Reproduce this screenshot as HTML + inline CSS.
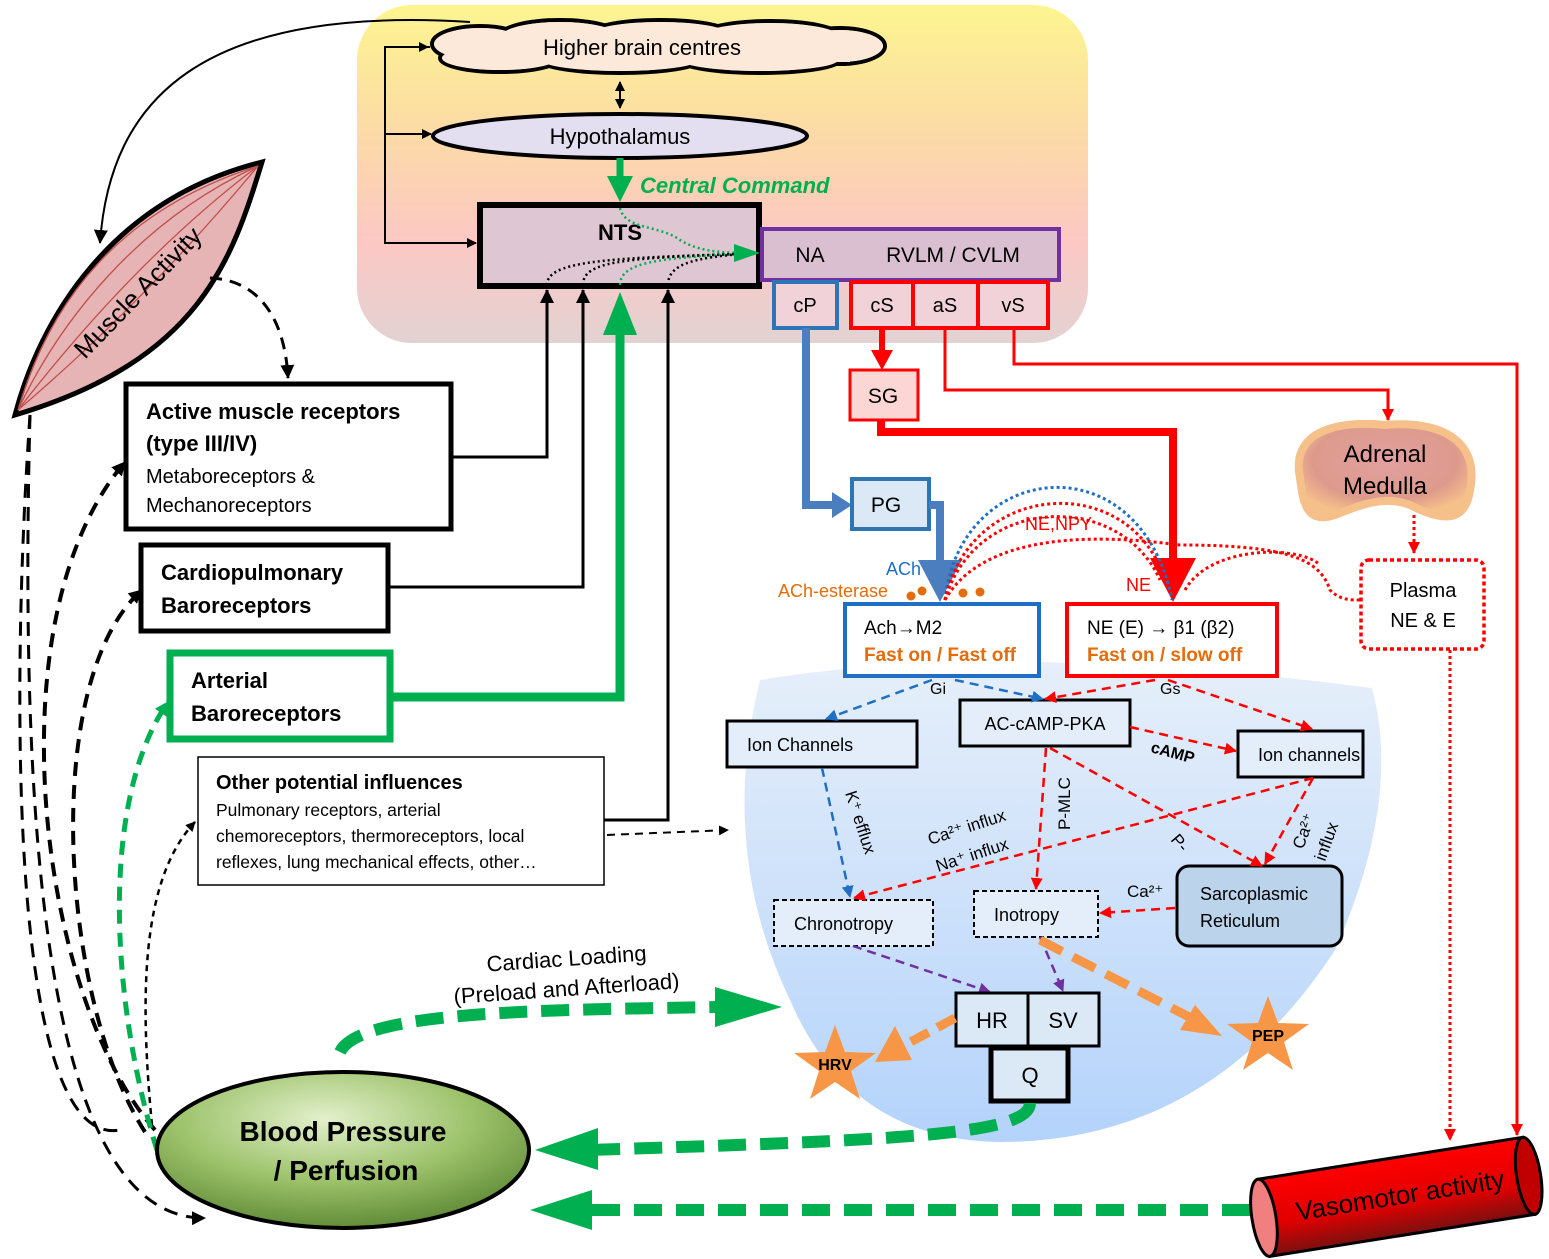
<!DOCTYPE html>
<html><head><meta charset="utf-8"><style>
html,body{margin:0;padding:0;background:#fff}
svg{display:block}
text{font-family:"Liberation Sans",sans-serif}
</style></head><body>
<svg width="1549" height="1259" viewBox="0 0 1549 1259" xmlns="http://www.w3.org/2000/svg">
<defs>
<linearGradient id="brain" x1="0" y1="0" x2="0" y2="1">
<stop offset="0" stop-color="#fdf590"/><stop offset="0.4" stop-color="#fcd9a8"/><stop offset="0.7" stop-color="#fcc8c4"/><stop offset="1" stop-color="#e2d2d2"/></linearGradient>
<linearGradient id="heart" x1="0" y1="0" x2="0" y2="1">
<stop offset="0" stop-color="#e6effa"/><stop offset="1" stop-color="#b4d3fb"/></linearGradient>
<radialGradient id="bp" cx="0.45" cy="0.3" r="0.8">
<stop offset="0" stop-color="#e3f0cc"/><stop offset="0.5" stop-color="#9cc26a"/><stop offset="1" stop-color="#4f7a28"/></radialGradient>
<linearGradient id="cyl" x1="0" y1="0" x2="0" y2="1">
<stop offset="0" stop-color="#ff0000"/><stop offset="0.6" stop-color="#e00000"/><stop offset="1" stop-color="#7a1010"/></linearGradient>
<radialGradient id="adr" cx="0.5" cy="0.4" r="0.6">
<stop offset="0" stop-color="#e2a0a0"/><stop offset="0.7" stop-color="#dd9a8c"/><stop offset="1" stop-color="#f6c08a"/></radialGradient>
<marker id="ak" markerWidth="10" markerHeight="10" refX="9" refY="5" orient="auto" markerUnits="userSpaceOnUse"><path d="M0,0 L10,5 L0,10 z" fill="#000"/></marker>
<marker id="akb" markerWidth="14" markerHeight="14" refX="13" refY="7" orient="auto" markerUnits="userSpaceOnUse"><path d="M0,0 L14,7 L0,14 z" fill="#000"/></marker>
<marker id="ar" markerWidth="12" markerHeight="12" refX="11" refY="6" orient="auto" markerUnits="userSpaceOnUse"><path d="M0,0 L12,6 L0,12 z" fill="#ff0000"/></marker>
<marker id="ab" markerWidth="12" markerHeight="12" refX="11" refY="6" orient="auto" markerUnits="userSpaceOnUse"><path d="M0,0 L12,6 L0,12 z" fill="#1f6fc5"/></marker>
<marker id="ap" markerWidth="12" markerHeight="12" refX="11" refY="6" orient="auto" markerUnits="userSpaceOnUse"><path d="M0,0 L12,6 L0,12 z" fill="#7030a0"/></marker>
<marker id="ag" markerWidth="14" markerHeight="14" refX="13" refY="7" orient="auto" markerUnits="userSpaceOnUse"><path d="M0,0 L14,7 L0,14 z" fill="#00b050"/></marker>
</defs>

<!-- brain background -->
<rect x="357" y="5" width="731" height="338" rx="55" fill="url(#brain)"/>

<!-- heart blob -->
<path d="M760 680 Q1000 640 1372 688 Q1402 800 1335 950 Q1210 1142 1000 1142 Q850 1140 790 1000 Q718 850 760 680 Z" fill="url(#heart)"/>

<!-- cloud -->
<g stroke="#000" stroke-width="4" fill="#fde9d9">
<ellipse cx="480" cy="44" rx="48" ry="18"/><ellipse cx="560" cy="36" rx="60" ry="16"/><ellipse cx="660" cy="34" rx="70" ry="14"/><ellipse cx="770" cy="36" rx="70" ry="15"/><ellipse cx="840" cy="46" rx="45" ry="18"/>
<ellipse cx="500" cy="58" rx="60" ry="14"/><ellipse cx="620" cy="60" rx="80" ry="13"/><ellipse cx="760" cy="60" rx="80" ry="13"/>
</g>
<g fill="#fde9d9"><ellipse cx="480" cy="44" rx="46" ry="16"/><ellipse cx="560" cy="36" rx="58" ry="14"/><ellipse cx="660" cy="34" rx="68" ry="12"/><ellipse cx="770" cy="36" rx="68" ry="13"/><ellipse cx="840" cy="46" rx="43" ry="16"/>
<ellipse cx="500" cy="58" rx="58" ry="12"/><ellipse cx="620" cy="60" rx="78" ry="11"/><ellipse cx="760" cy="60" rx="78" ry="11"/><rect x="470" y="36" width="380" height="26"/></g>
<text x="642" y="55" font-size="22" text-anchor="middle">Higher brain centres</text>

<ellipse cx="620" cy="136" rx="187" ry="22" fill="#e4dff0" stroke="#000" stroke-width="4"/>
<text x="620" y="144" font-size="22" text-anchor="middle">Hypothalamus</text>
<!-- double arrow -->
<line x1="620" y1="86" x2="620" y2="108" stroke="#000" stroke-width="2" marker-end="url(#ak)"/>
<line x1="620" y1="106" x2="620" y2="82" stroke="#000" stroke-width="2" marker-end="url(#ak)"/>

<!-- left bracket -->
<path d="M430 47 L385 47 L385 243 L476 243" fill="none" stroke="#000" stroke-width="2" marker-end="url(#ak)"/>
<line x1="385" y1="47" x2="428" y2="47" stroke="#000" stroke-width="2" marker-end="url(#ak)"/>
<line x1="385" y1="134" x2="431" y2="134" stroke="#000" stroke-width="2" marker-end="url(#ak)"/>

<!-- green central command -->
<line x1="620" y1="158" x2="620" y2="178" stroke="#00b050" stroke-width="7"/>
<path d="M607 176 L633 176 L620 202 z" fill="#00b050"/>
<text x="640" y="193" font-size="22" font-weight="bold" font-style="italic" fill="#00b050">Central Command</text>

<!-- NTS -->
<rect x="480" y="205" width="279" height="81" fill="#dfc6d3" stroke="#000" stroke-width="6"/>
<text x="620" y="240" font-size="22" font-weight="bold" text-anchor="middle">NTS</text>
<path d="M620 208 C625 230 660 225 680 240 C700 252 720 252 740 253" fill="none" stroke="#00b050" stroke-width="2.5" stroke-dasharray="2,3"/>
<path d="M547 285 C547 262 600 258 740 254" fill="none" stroke="#000" stroke-width="2.5" stroke-dasharray="2,3"/>
<path d="M583 285 C583 262 620 258 740 254" fill="none" stroke="#000" stroke-width="2.5" stroke-dasharray="2,3"/>
<path d="M620 285 C620 262 660 258 740 254" fill="none" stroke="#00b050" stroke-width="2.5" stroke-dasharray="2,3"/>
<path d="M668 285 C668 262 700 258 740 254" fill="none" stroke="#000" stroke-width="2.5" stroke-dasharray="2,3"/>
<path d="M734 244 L760 253 L734 262 z" fill="#00b050"/>

<!-- NA box -->
<rect x="762" y="229" width="297" height="51" fill="#d9bfcf" stroke="#7030a0" stroke-width="4"/>
<text x="810" y="262" font-size="21" text-anchor="middle">NA</text>
<text x="953" y="262" font-size="21" text-anchor="middle">RVLM / CVLM</text>
<rect x="774" y="282" width="63" height="46" fill="#f0d2d8" stroke="#2e75b6" stroke-width="4"/>
<text x="805" y="312" font-size="20" text-anchor="middle">cP</text>
<rect x="851" y="282" width="62" height="46" fill="#f0d2d8" stroke="#ff0000" stroke-width="4"/>
<text x="882" y="312" font-size="20" text-anchor="middle">cS</text>
<rect x="913" y="282" width="65" height="46" fill="#f0d2d8" stroke="#ff0000" stroke-width="4"/>
<text x="945" y="312" font-size="20" text-anchor="middle">aS</text>
<rect x="978" y="282" width="70" height="46" fill="#f0d2d8" stroke="#ff0000" stroke-width="4"/>
<text x="1013" y="312" font-size="20" text-anchor="middle">vS</text>

<!-- muscle -->
<path d="M15 415 C40 320 110 200 262 162 C232 260 200 360 15 415 Z" fill="#e6b4b4" stroke="#000" stroke-width="5"/>
<g stroke="#c0504d" stroke-width="1.3" fill="none">
<path d="M18 410 C60 320 140 220 258 166"/><path d="M18 410 C80 330 160 240 258 166"/><path d="M18 410 C100 340 180 260 258 166"/><path d="M18 410 C50 300 120 210 258 166"/></g>
<text x="0" y="0" font-size="26" transform="translate(85,360) rotate(-46)">Muscle Activity</text>
<path d="M470 22 C200 5 110 100 100 243" fill="none" stroke="#000" stroke-width="2" marker-end="url(#akb)"/>
<path d="M210 278 C260 280 285 320 288 378" fill="none" stroke="#000" stroke-width="3" stroke-dasharray="12,8" marker-end="url(#akb)"/>

<!-- left boxes -->
<rect x="126" y="384" width="325" height="145" fill="#fff" stroke="#000" stroke-width="5"/>
<text x="146" y="419" font-size="22" font-weight="bold">Active muscle receptors</text>
<text x="146" y="451" font-size="22" font-weight="bold">(type III/IV)</text>
<text x="146" y="483" font-size="20">Metaboreceptors &amp;</text>
<text x="146" y="512" font-size="20">Mechanoreceptors</text>
<rect x="141" y="545" width="247" height="86" fill="#fff" stroke="#000" stroke-width="5"/>
<text x="161" y="580" font-size="22" font-weight="bold">Cardiopulmonary</text>
<text x="161" y="613" font-size="22" font-weight="bold">Baroreceptors</text>
<rect x="170" y="653" width="220" height="86" fill="#fff" stroke="#00b050" stroke-width="7"/>
<text x="191" y="688" font-size="22" font-weight="bold">Arterial</text>
<text x="191" y="721" font-size="22" font-weight="bold">Baroreceptors</text>
<rect x="198" y="757" width="406" height="128" fill="#fff" stroke="#000" stroke-width="1.5"/>
<text x="216" y="789" font-size="20" font-weight="bold">Other potential influences</text>
<text x="216" y="816" font-size="17.5">Pulmonary receptors, arterial</text>
<text x="216" y="842" font-size="17.5">chemoreceptors, thermoreceptors, local</text>
<text x="216" y="868" font-size="17.5">reflexes, lung mechanical effects, other…</text>

<!-- inputs to NTS -->
<path d="M451 457 L547 457 L547 290" fill="none" stroke="#000" stroke-width="3" marker-end="url(#akb)"/>
<path d="M389 587 L583 587 L583 290" fill="none" stroke="#000" stroke-width="3" marker-end="url(#akb)"/>
<path d="M604 820 L668 820 L668 290" fill="none" stroke="#000" stroke-width="3" marker-end="url(#akb)"/>
<path d="M391 697 L620 697 L620 330" fill="none" stroke="#00b050" stroke-width="9"/>
<path d="M603 335 L637 335 L620 292 z" fill="#00b050"/>
<path d="M607 835 L728 830" fill="none" stroke="#000" stroke-width="2" stroke-dasharray="8,6" marker-end="url(#ak)"/>

<!-- left dashed feedback -->
<g fill="none" stroke="#000" stroke-dasharray="14,9">
<path d="M155 1130 C40 1000 -10 620 125 462" stroke-width="4" marker-end="url(#akb)"/>
<path d="M145 1132 C60 1000 40 680 142 590" stroke-width="4" marker-end="url(#akb)"/>
<path d="M30 415 C10 700 10 1150 120 1130" stroke-width="3"/>
<path d="M30 415 C20 800 40 1220 205 1218" stroke-width="3" marker-end="url(#akb)"/>
<path d="M152 1125 C140 1000 140 880 195 822" stroke-width="2.5" stroke-dasharray="6,5" marker-end="url(#ak)"/>
</g>
<path d="M157 1150 C110 1000 100 800 168 702" fill="none" stroke="#00b050" stroke-width="5" stroke-dasharray="14,9" marker-end="url(#ag)"/>

<!-- blood pressure -->
<ellipse cx="343" cy="1150" rx="186" ry="78" fill="url(#bp)" stroke="#000" stroke-width="4"/>
<text x="343" y="1141" font-size="28" font-weight="bold" text-anchor="middle">Blood Pressure</text>
<text x="346" y="1180" font-size="28" font-weight="bold" text-anchor="middle">/ Perfusion</text>

<!-- autonomic paths -->
<path d="M806 328 L806 505 L835 505" fill="none" stroke="#4a7ebf" stroke-width="8"/>
<path d="M832 492 L852 505 L832 518 z" fill="#4a7ebf"/>
<rect x="852" y="479" width="77" height="50" fill="#dbe9f6" stroke="#2e75b6" stroke-width="4"/>
<text x="886" y="512" font-size="21" text-anchor="middle">PG</text>
<path d="M929 505 L940 505 L940 565" fill="none" stroke="#4a7ebf" stroke-width="8"/>
<path d="M918 560 L962 560 L940 602 z" fill="#4a7ebf"/>

<line x1="882" y1="328" x2="882" y2="352" stroke="#ff0000" stroke-width="6"/>
<path d="M871 350 L893 350 L882 370 z" fill="#ff0000"/>
<rect x="850" y="370" width="68" height="50" fill="#fcd5d5" stroke="#ff0000" stroke-width="3"/>
<text x="883" y="403" font-size="21" text-anchor="middle">SG</text>
<path d="M881 420 L881 432 L1173 432 L1173 560" fill="none" stroke="#ff0000" stroke-width="8"/>
<path d="M1150 558 L1196 558 L1173 602 z" fill="#ff0000"/>

<path d="M945 328 L945 390 L1388 390 L1388 420" fill="none" stroke="#ff0000" stroke-width="3" marker-end="url(#ar)"/>
<path d="M1014 328 L1014 364 L1517 364 L1517 1135" fill="none" stroke="#ff0000" stroke-width="3" marker-end="url(#ar)"/>

<!-- adrenal -->
<path d="M1300 478 C1290 430 1340 420 1385 425 C1440 420 1480 440 1470 490 C1465 525 1440 520 1410 505 C1385 495 1360 505 1335 515 C1305 525 1303 500 1300 478 Z" fill="url(#adr)" stroke="#f6c08a" stroke-width="8"/>
<text x="1385" y="462" font-size="24" text-anchor="middle">Adrenal</text>
<text x="1385" y="494" font-size="24" text-anchor="middle">Medulla</text>
<path d="M1414 515 L1414 553" fill="none" stroke="#ff0000" stroke-width="3" stroke-dasharray="3,3" marker-end="url(#ar)"/>
<rect x="1361" y="560" width="123" height="89" rx="8" fill="#fff" stroke="#ff0000" stroke-width="3.5" stroke-dasharray="4,3"/>
<text x="1423" y="597" font-size="20" text-anchor="middle">Plasma</text>
<text x="1423" y="627" font-size="20" text-anchor="middle">NE &amp; E</text>
<path d="M1450 650 L1450 1140" fill="none" stroke="#ff0000" stroke-width="3" stroke-dasharray="3,3" marker-end="url(#ar)"/>

<!-- dotted arcs -->
<g fill="none" stroke-width="3" stroke-dasharray="3,3">
<path d="M945 600 C960 460 1140 440 1172 600" stroke="#1f6fc5"/>
<path d="M945 600 C970 480 1130 470 1165 580" stroke="#ff0000"/>
<path d="M945 600 C975 495 1120 490 1160 580" stroke="#ff0000"/>
<path d="M945 600 C990 520 1140 540 1180 545 C1290 545 1320 560 1330 590 C1340 600 1350 600 1360 600" stroke="#ff0000"/>
<path d="M1185 590 C1210 545 1300 545 1320 565" stroke="#ff0000"/>
</g>
<text x="1025" y="530" font-size="18" fill="#ff0000">NE,NPY</text>
<text x="886" y="575" font-size="18" fill="#1f6fc5">ACh</text>
<text x="778" y="597" font-size="18" fill="#e46c0a">ACh-esterase</text>
<text x="1126" y="591" font-size="18" fill="#ff0000">NE</text>
<g fill="#e46c0a"><circle cx="911" cy="596" r="4.5"/><circle cx="922" cy="591" r="4.5"/><circle cx="963" cy="593" r="4.5"/><circle cx="980" cy="592" r="4.5"/></g>

<!-- receptor boxes -->
<rect x="845" y="604" width="194" height="72" fill="#fff" stroke="#1f6fc5" stroke-width="4"/>
<text x="864" y="634" font-size="19">Ach→M2</text>
<text x="864" y="661" font-size="19" font-weight="bold" fill="#e46c0a">Fast on / Fast off</text>
<rect x="1067" y="604" width="210" height="72" fill="#fff" stroke="#ff0000" stroke-width="4"/>
<text x="1087" y="634" font-size="19">NE (E) → β1 (β2)</text>
<text x="1087" y="661" font-size="19" font-weight="bold" fill="#e46c0a">Fast on / slow off</text>
<text x="930" y="694" font-size="16">Gi</text>
<text x="1160" y="694" font-size="16">Gs</text>

<!-- internal boxes -->
<rect x="727" y="721" width="190" height="46" fill="#e4eefa" stroke="#000" stroke-width="3"/>
<text x="747" y="751" font-size="18">Ion Channels</text>
<rect x="960" y="700" width="170" height="46" fill="#e4eefa" stroke="#000" stroke-width="3"/>
<text x="1045" y="730" font-size="18" text-anchor="middle">AC-cAMP-PKA</text>
<rect x="1238" y="731" width="125" height="46" fill="#e4eefa" stroke="#000" stroke-width="3"/>
<text x="1258" y="761" font-size="18">Ion channels</text>
<rect x="1177" y="866" width="165" height="80" rx="12" fill="#bcd3ec" stroke="#000" stroke-width="3"/>
<text x="1200" y="900" font-size="18">Sarcoplasmic</text>
<text x="1200" y="927" font-size="18">Reticulum</text>
<rect x="774" y="900" width="159" height="46" fill="#e4eefa" stroke="#000" stroke-width="2" stroke-dasharray="5,3"/>
<text x="794" y="930" font-size="18">Chronotropy</text>
<rect x="974" y="891" width="124" height="46" fill="#e4eefa" stroke="#000" stroke-width="2" stroke-dasharray="5,3"/>
<text x="994" y="921" font-size="18">Inotropy</text>

<!-- signalling dashed -->
<g fill="none" stroke-width="2.5" stroke-dasharray="9,6">
<path d="M932 680 L826 719" stroke="#1f6fc5" marker-end="url(#ab)"/>
<path d="M955 680 L1043 699" stroke="#1f6fc5" marker-end="url(#ab)"/>
<path d="M822 768 L850 897" stroke="#1f6fc5" marker-end="url(#ab)"/>
<path d="M1155 680 L1045 699" stroke="#ff0000" marker-end="url(#ar)"/>
<path d="M1168 680 L1312 729" stroke="#ff0000" marker-end="url(#ar)"/>
<path d="M1130 727 L1236 751" stroke="#ff0000" marker-end="url(#ar)"/>
<path d="M1046 748 L1036 889" stroke="#ff0000" marker-end="url(#ar)"/>
<path d="M1050 748 L1262 866" stroke="#ff0000" marker-end="url(#ar)"/>
<path d="M1313 778 L854 898" stroke="#ff0000" marker-end="url(#ar)"/>
<path d="M1313 778 L1265 864" stroke="#ff0000" marker-end="url(#ar)"/>
<path d="M1175 908 L1100 913" stroke="#ff0000" marker-end="url(#ar)"/>
<path d="M853 946 L990 992" stroke="#7030a0" marker-end="url(#ap)"/>
<path d="M1040 937 L1063 991" stroke="#7030a0" marker-end="url(#ap)"/>
</g>
<text x="1150" y="752" font-size="16" font-weight="bold" transform="rotate(15 1150 752)">cAMP</text>
<text x="845" y="793" font-size="17" transform="rotate(72 845 793)">K⁺ efflux</text>
<text x="930" y="845" font-size="17" transform="rotate(-18 930 845)">Ca²⁺ influx</text>
<text x="938" y="872" font-size="17" transform="rotate(-18 938 872)">Na⁺ influx</text>
<text x="1070" y="830" font-size="17" transform="rotate(-90 1070 830)">P-MLC</text>
<text x="1170" y="840" font-size="17" transform="rotate(50 1170 840)">P-</text>
<text x="1303" y="850" font-size="17" transform="rotate(-70 1303 850)">Ca²⁺</text>
<text x="1325" y="862" font-size="17" transform="rotate(-70 1325 862)">influx</text>
<text x="1127" y="897" font-size="17">Ca²⁺</text>

<!-- HR SV Q -->
<rect x="956" y="993" width="72" height="53" fill="#dbe9f6" stroke="#000" stroke-width="3"/>
<rect x="1028" y="993" width="71" height="53" fill="#dbe9f6" stroke="#000" stroke-width="3"/>
<text x="992" y="1028" font-size="22" text-anchor="middle">HR</text>
<text x="1063" y="1028" font-size="22" text-anchor="middle">SV</text>
<rect x="991" y="1048" width="77" height="53" fill="#dbe9f6" stroke="#000" stroke-width="5"/>
<text x="1030" y="1083" font-size="22" text-anchor="middle">Q</text>

<!-- orange arrows & stars -->
<path d="M955 1018 L905 1045" stroke="#f79646" stroke-width="9" stroke-dasharray="20,10" fill="none"/>
<path d="M895 1026 L912 1060 L875 1062 z" fill="#f79646"/>
<path d="M1040 940 L1195 1020" stroke="#f79646" stroke-width="9" stroke-dasharray="25,12" fill="none"/>
<path d="M1195 1005 L1222 1036 L1180 1030 z" fill="#f79646"/>
<polygon points="835,1025 845,1052 876,1053 851,1071 860,1099 835,1082 810,1099 819,1071 794,1053 825,1052" fill="#f79646"/>
<text x="835" y="1070" font-size="16" font-weight="bold" text-anchor="middle">HRV</text>
<polygon points="1268,996 1278,1023 1309,1024 1284,1042 1293,1070 1268,1053 1243,1070 1252,1042 1227,1024 1258,1023" fill="#f79646"/>
<text x="1268" y="1041" font-size="16" font-weight="bold" text-anchor="middle">PEP</text>

<!-- green loops -->
<path d="M340 1052 C360 1010 550 1010 720 1007" fill="none" stroke="#00b050" stroke-width="12" stroke-dasharray="28,14"/>
<path d="M715 987 L782 1007 L715 1027 z" fill="#00b050"/>
<text x="567" y="966" font-size="22" text-anchor="middle" transform="rotate(-4 567 966)">Cardiac Loading</text>
<text x="567" y="996" font-size="22" text-anchor="middle" transform="rotate(-4 567 996)">(Preload and Afterload)</text>
<path d="M1030 1103 C1030 1135 900 1140 590 1150" fill="none" stroke="#00b050" stroke-width="12" stroke-dasharray="28,14"/>
<path d="M598 1128 L535 1150 L598 1170 z" fill="#00b050"/>
<path d="M1250 1210 L590 1210" fill="none" stroke="#00b050" stroke-width="12" stroke-dasharray="28,14"/>
<path d="M592 1190 L530 1210 L592 1230 z" fill="#00b050"/>

<!-- vasomotor cylinder -->
<g transform="rotate(-9 1395 1195)">
<rect x="1262" y="1158" width="268" height="78" fill="url(#cyl)" stroke="#000" stroke-width="3"/>
<ellipse cx="1530" cy="1197" rx="12" ry="39" fill="#c00000" stroke="#000" stroke-width="3"/>
<ellipse cx="1262" cy="1197" rx="12" ry="39" fill="#f08080" stroke="#000" stroke-width="3"/>
<text x="1400" y="1205" font-size="26" text-anchor="middle">Vasomotor activity</text>
</g>
</svg>
</body></html>
